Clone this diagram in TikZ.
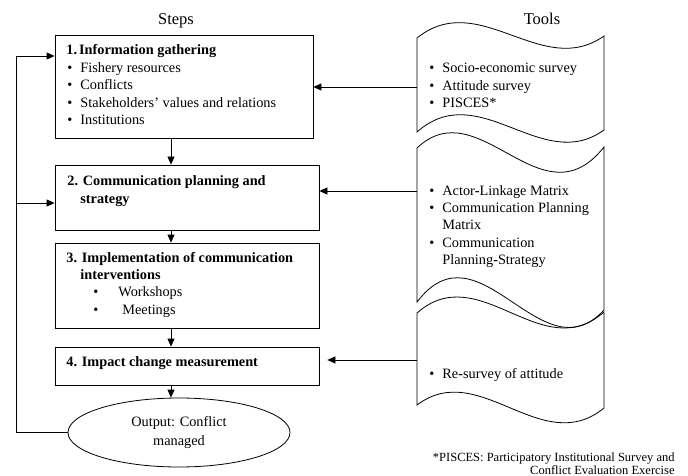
\documentclass[tikz,border=0pt]{standalone}
\usepackage{fontspec}
\setmainfont{Liberation Serif}
\usetikzlibrary{arrows.meta,shapes.geometric}
\newcommand{\bul}[1][13pt]{\makebox[#1][l]{\textbullet}}
\begin{document}
\begin{tikzpicture}[x=1pt,y=-1pt,line width=0.8pt,
  every node/.style={font=\fontsize{14.3}{17.4}\selectfont,inner sep=0pt},
  stepbox/.style={draw,minimum width=264pt,minimum height=#1},
  txt/.style={anchor=base west},
  arr/.style={-{Triangle[length=8pt,width=7pt]}},
  head/.style={anchor=base,font=\fontsize{16.5}{19}\selectfont}]
\useasboundingbox (0,0) rectangle (688,476);
\node[head] (steps) at (176,25) {Steps};
\node[head] (tools) at (542,25) {Tools};
\node[stepbox=103pt,minimum width=258pt] (b1) at (184,86.5) {};
\node[stepbox=65pt] (b2) at (187,197.5) {};
\node[stepbox=85pt] (b3) at (187,285.5) {};
\node[stepbox=38pt] (b4) at (187,366) {};
\node[draw,ellipse,minimum width=222pt,minimum height=69pt,align=center,font=\fontsize{14.3}{18.5}\selectfont] (out) at (179,432.5) {Output: Conflict\\managed};
\node[txt] (s1) at (66,55) {\begin{tabular}[t]{@{}l@{}}\textbf{1.\hspace{2pt}Information gathering}\\\hspace{1pt}\bul Fishery resources\\\hspace{1pt}\bul Conflicts\\\hspace{1pt}\bul Stakeholders’ values and relations\\\hspace{1pt}\bul Institutions\end{tabular}};
\node[txt] (s2) at (67,185) {\begin{tabular}[t]{@{}l@{}}\textbf{2. Communication planning and}\\[0.6pt]\hspace{13pt}\textbf{strategy}\end{tabular}};
\node[txt] (s3) at (66,262) {\begin{tabular}[t]{@{}l@{}}\textbf{3. Implementation of communication}\\\hspace{14pt}\textbf{interventions}\\\hspace{27pt}\bul[25pt]Workshops\\\hspace{27pt}\bul[29pt]Meetings\end{tabular}};
\node[txt] (s4) at (66,366) {\textbf{4. Impact change measurement}};
% tools
\foreach \ta/\tb/\tp/\tq/\ba/\bb/\bp/\bq in {38/36/50/44/132/130/55/45,148/147/59/79/302/310/82/68,313/312/55/55/405/408/47/51}
  \draw (417,\ta) .. controls (479.3,\ta-\tp) and (541.7,\tb+\tq) .. (604,\tb) -- (604,\bb) .. controls (541.7,\bb+\bq) and (479.3,\ba-\bp) .. (417,\ba) -- cycle;
\node[txt] (u1) at (429,73) {\begin{tabular}[t]{@{}l@{}}\bul Socio\textbf{-}economic survey\\\bul Attitude survey\\\bul PISCES*\end{tabular}};
\node[txt] (u2) at (429,195) {\begin{tabular}[t]{@{}l@{}}\bul Actor\textbf{-}Linkage Matrix\\\bul Communication Planning\\\hspace{13pt}Matrix\\\bul Communication\\\hspace{13pt}Planning\textbf{-}Strategy\end{tabular}};
\node[txt] (u3) at (429,378) {\bul Re\textbf{-}survey of attitude};
\node[anchor=base east,font=\fontsize{12.5}{13.5}\selectfont] (note) at (675,461) {\begin{tabular}[t]{@{}r@{}}*PISCES: Participatory Institutional Survey and\\Conflict Evaluation Exercise\end{tabular}};
% arrows
\coordinate (t1) at (417,87); \coordinate (t2) at (417,191); \coordinate (t3) at (417,360);
\draw[arr] (t1) -- (t1 -| b1.east);
\draw[arr] (t2) -- (t2 -| b2.east);
\draw[arr,shorten >=8pt] (t3) -- (t3 -| b4.east);
\coordinate (axis) at (171,0);
\foreach \a/\b in {b1/b2,b2/b3,b3/b4,b4/out} \draw[arr] (\a.south -| axis) -- (\b.north -| axis);
\coordinate (r1) at (16,56); \coordinate (r2) at (16,203);
\draw[arr] (out.west) -| (r1) -- (r1 -| b1.west);
\draw[arr] (r2) -- (r2 -| b2.west);
\end{tikzpicture}
\end{document}
